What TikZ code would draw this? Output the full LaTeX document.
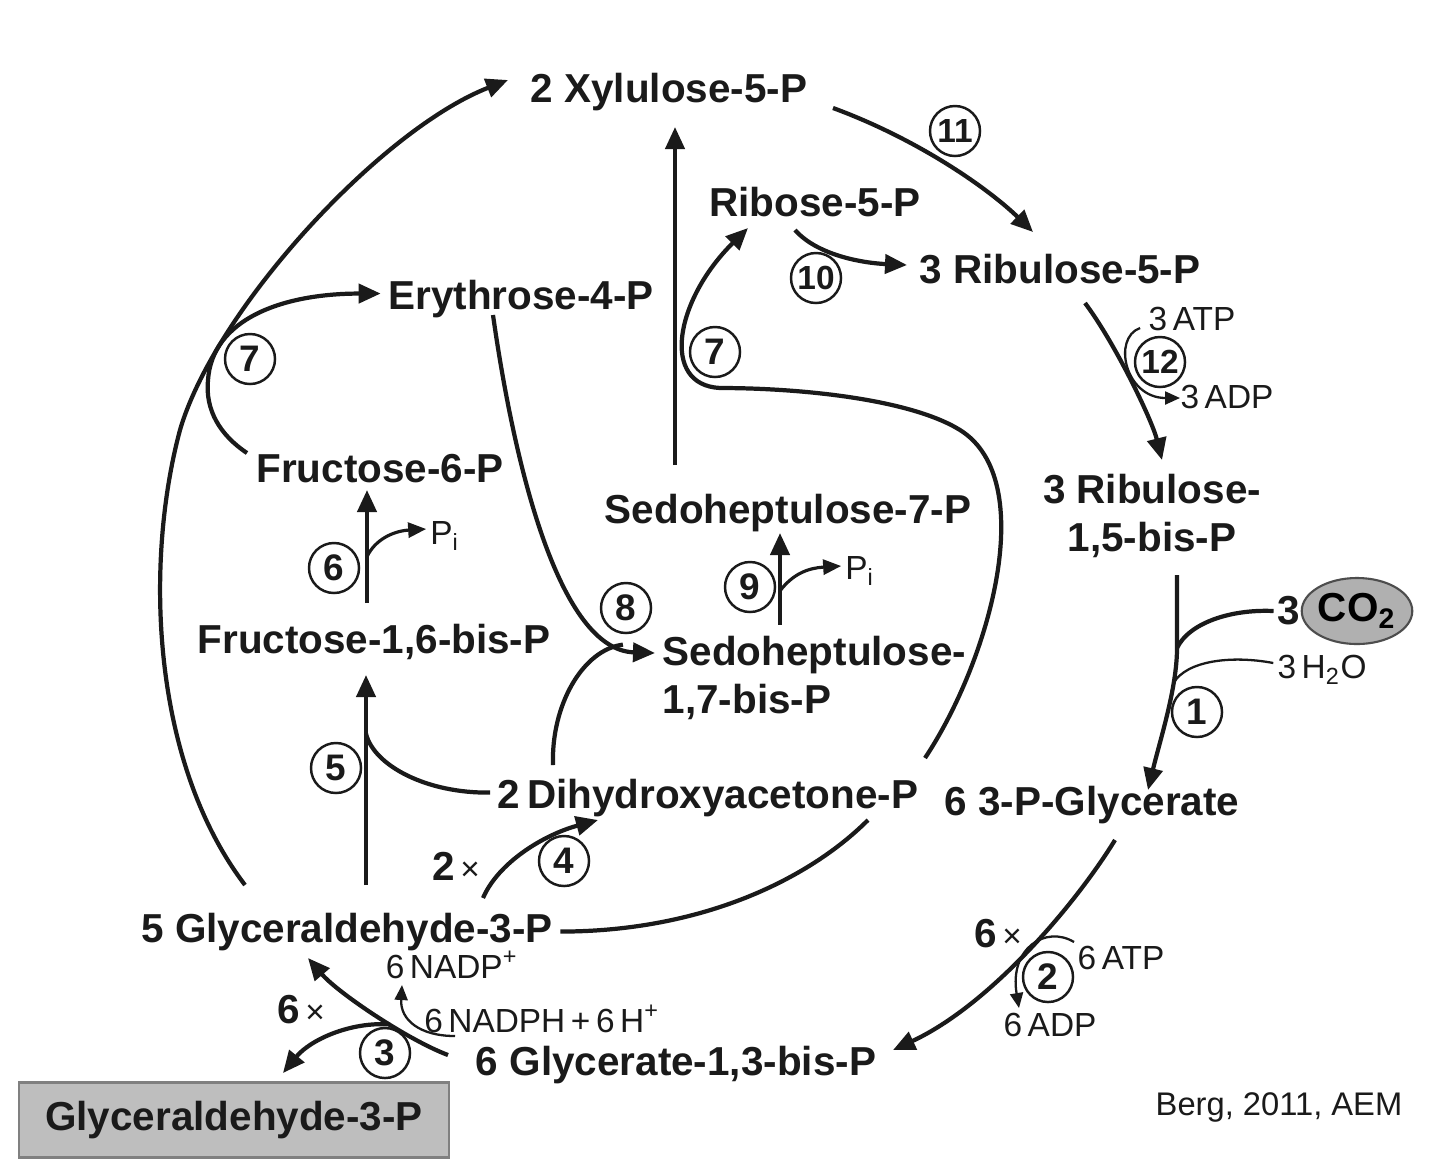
\documentclass[tikz,border=0pt]{standalone}
\usepackage{fontspec}
\setmainfont{Liberation Sans}
\usepackage{tikz}
\usetikzlibrary{arrows.meta,shapes.geometric}
\definecolor{inkblack}{HTML}{1A1A1A}
\definecolor{boxgray}{HTML}{BEBEBE}
\definecolor{boxedge}{HTML}{808080}
\definecolor{co2gray}{HTML}{B0B0B0}
\definecolor{co2edge}{HTML}{4D4D4D}
\newcommand{\metfont}{\fontsize{11.5}{13.5}\selectfont\bfseries}
\newcommand{\coffont}{\fontsize{9.5}{11}\selectfont}
\newcommand{\enzfont}{\fontsize{10.5}{12}\selectfont\bfseries}

\begin{document}
\begin{tikzpicture}[
  x=0.01cm,y=-0.01cm,
  met/.style={font=\metfont,text=inkblack,inner sep=2pt,anchor=base},
  twoline/.style={font=\metfont,text=inkblack,inner sep=2pt},
  cof/.style={font=\coffont,text=inkblack,inner sep=1pt},
  enz/.style={circle,draw=inkblack,line width=0.7pt,inner sep=0pt,
    minimum size=0.5cm,font=\enzfont,text=inkblack},
  enztwo/.style={enz,font=\fontsize{9.5}{11}\selectfont\bfseries},
  mult/.style={font=\metfont,text=inkblack,inner sep=1pt},
  rxn/.style={-{Triangle[length=2.2mm,width=1.9mm]},line width=1.2pt,draw=inkblack},
  plainline/.style={line width=1.2pt,draw=inkblack},
  thinline/.style={line width=0.65pt,draw=inkblack},
  pibranch/.style={-{Triangle[length=1.8mm,width=1.5mm]},line width=0.9pt,draw=inkblack},
  cofline/.style={-{Triangle[length=1.5mm,width=1.3mm]},line width=0.65pt,draw=inkblack}
]
\path[use as bounding box,fill=white] (0,0) rectangle (1440,1172);

% metabolites of the cycle
\node[met] (xyl) at (669,102) {2 Xylulose-5-P};
\node[met] (rib) at (815,216) {Ribose-5-P};
\node[met] (ru5p) at (1060,283) {3 Ribulose-5-P};
\node[met] (ery) at (521,309) {Erythrose-4-P};
\node[met] (f6p) at (380,482) {Fructose-6-P};
\node[met] (s7p) at (788,523) {Sedoheptulose-7-P};
\node[twoline,align=center] (rubp) at (1152,516) {3 Ribulose-\\1,5-bis-P};
\node[met] (fbp) at (374,653) {Fructose-1,6-bis-P};
\node[twoline,align=left,anchor=west] (sbp) at (655,678) {Sedoheptulose-\\1,7-bis-P};
\node[met] (dhap) at (708,808) {2\,Dihydroxyacetone-P};
\node[met] (pga) at (1092,815) {6 3-P-Glycerate};
\node[met] (gap) at (347,942) {5 Glyceraldehyde-3-P};
\node[met] (bpg) at (676,1075) {6 Glycerate-1,3-bis-P};
\node[twoline,draw=boxedge,fill=boxgray,line width=0.6pt,
  minimum width=4.3cm,minimum height=0.75cm] (prod) at (234,1120) {Glyceraldehyde-3-P};

% CO2 input and cofactors
\node[mult] (co2n) at (1289,611) {3};
\node[ellipse,draw=co2edge,fill=co2gray,line width=0.6pt,minimum width=0.98cm,
  minimum height=0.66cm,inner sep=0pt,font=\metfont] (co2) at (1357,611) {CO\textsubscript{2}};
\node[cof] (h2o) at (1322,670) {3\,H\textsubscript{2}O};
\node[cof] (atp3) at (1192,319) {3\,ATP};
\node[cof] (adp3) at (1227,397) {3\,ADP};
\node[cof] (atp6) at (1121,958) {6\,ATP};
\node[cof] (adp6) at (1050,1025) {6\,ADP};
\node[cof] (nadp) at (452,965) {6\,NADP\textsuperscript{+}};
\node[cof] (nadph) at (542,1019) {6\,NADPH\,+\,6\,H\textsuperscript{+}};
\node[cof] (pi6) at (445,536) {P\textsubscript{i}};
\node[cof] (pi9) at (860,571) {P\textsubscript{i}};
\node[cof,font=\fontsize{9.3}{11}\selectfont] (cite) at (1279,1107) {Berg, 2011, AEM};
\node[mult] (n4) at (456,866) {2{\coffont\mdseries\,×}};
\node[mult] (n2) at (998,934) {6{\coffont\mdseries\,×}};
\node[mult] (n3) at (301,1010) {6{\coffont\mdseries\,×}};

% enzyme numbers
\node[enz] (e1) at (1197,712) {1};
\node[enz] (e2) at (1048,977) {2};
\node[enz] (e3) at (385,1053) {3};
\node[enz] (e4) at (564,861) {4};
\node[enz] (e5) at (336,768) {5};
\node[enz] (e6) at (334,568) {6};
\node[enz] (e7a) at (250,359) {7};
\node[enz] (e7b) at (715,352) {7};
\node[enz] (e8) at (626,608) {8};
\node[enz] (e9) at (750,587) {9};
\node[enztwo] (e10) at (816,278) {10};
\node[enztwo] (e11) at (955,131) {11};
\node[enztwo] (e12) at (1160,362) {12};

% ribulose-5-P and its phosphorylation
\draw[rxn] ([shift={(164,6)}]xyl.base) .. controls +(87,32) and +(-43,-42) .. ([shift={(-27,-51)}]ru5p.base);
\draw[rxn] ([shift={(-20,14)}]rib.base) .. controls +(22,25) and +(-45,-2) .. ([shift={(-153,-18)}]ru5p.base);
\draw[rxn] ([shift={(25,20)}]ru5p.base) .. controls +(30,40) and +(-10,-40) .. ([shift={(10,-56)}]rubp.center);
\draw[cofline] ([shift={(-20,-34)}]e12.center) .. controls +(-28,10) and +(-55,0) .. ([shift={(20,36)}]e12.center);

% carboxylation
\draw[rxn] ([shift={(25,59)}]rubp.center) -- ++(0,73) coordinate (jco2)
  .. controls +(0,40) and +(12,-50) .. ([shift={(56,-25)}]pga.base) coordinate[pos=0.27] (jh2o);
\draw[plainline] (co2n.west) .. controls +(-43,-2) and +(12,-25) .. (jco2);
\draw[thinline] ([shift={(0,-7)}]h2o.west) .. controls +(-42,-8) and +(13,-22) .. (jh2o);

% reduction
\draw[rxn] ([shift={(23,25)}]pga.base) .. controls +(-40,65) and +(97,-45) .. ([shift={(217,-25)}]bpg.base);
\draw[cofline] ([shift={(26,-35)}]e2.center) .. controls +(-28,-17) and +(-10,-60) .. ([shift={(-29,31)}]e2.center);
\draw[rxn] ([shift={(-228,-20)}]bpg.base) .. controls +(-40,-15) and +(30,35) .. ([shift={(-39,16)}]gap.base) coordinate[pos=0.4] (j3);
\draw[rxn] (j3) .. controls +(-40,-3) and +(27,-33) .. ([shift={(49,-47)}]prod.center);
\draw[cofline] ([shift={(70,-17)}]e3.center) .. controls +(-35,0) and +(-2,35) .. ([shift={(17,-68)}]e3.center);

% big arc back to xylulose
\draw[rxn] ([shift={(-102,-57)}]gap.base) .. controls +(-95,-125) and +(-35,130) .. (180,430)
  .. controls +(35,-120) and +(-128,50) .. ([shift={(-161,-22)}]xyl.base);
\draw[rxn] ([shift={(-133,-29)}]f6p.base) .. controls +(-27,-18) and +(-3,30) .. (208,380)
  .. controls +(4,-60) and +(-100,0) .. ([shift={(0,-5)}]ery.west);

% hexose branch
\draw[rxn] ([shift={(19,-57)}]gap.base) -- ([shift={(-8,22)}]fbp.base) coordinate[pos=0.72] (j5);
\draw[plainline] ([shift={(0,-5)}]dhap.west) .. controls +(-63,1) and +(8,32) .. (j5);
\draw[rxn] ([shift={(-7,-50)}]fbp.base) -- ([shift={(-13,8)}]f6p.base) coordinate[pos=0.41] (p6);
\draw[pibranch] (p6) .. controls +(8,-17) and +(-33,2) .. ([shift={(0,-7)}]pi6.west);

% heptose branch
\draw[rxn] ([shift={(-28,6)}]ery.base) .. controls +(22,155) and +(-95,-3) .. ([shift={(0,-25)}]sbp.west) coordinate[pos=0.88] (j8);
\draw[plainline] ([shift={(-155,-43)}]dhap.base) .. controls +(-2,-60) and +(-40,5) .. (j8);
\draw[rxn] ([shift={(125,-4)}]sbp.north west) -- ([shift={(-8,10)}]s7p.base) coordinate[pos=0.37] (p9);
\draw[pibranch] (p9) .. controls +(13,-17) and +(-33,2) .. ([shift={(0,-5)}]pi9.west);
\draw[rxn] ([shift={(-113,-58)}]s7p.base) -- ([shift={(6,25)}]xyl.base);
\draw[rxn] ([shift={(217,-50)}]dhap.base) .. controls +(65,-98) and +(80,50) .. (960,430)
  .. controls +(-50,-31) and +(80,0) .. (720,388)
  .. controls +(-60,-3) and +(-73,72) .. ([shift={(-67,12)}]rib.base);

% triose isomerase
\draw[rxn] ([shift={(136,-44)}]gap.base) .. controls +(15,-35) and +(-55,15) .. ([shift={(-110,12)}]dhap.base);
\draw[plainline] (gap.east) .. controls +(140,0) and +(-60,60) .. ([shift={(160,12)}]dhap.base);
\end{tikzpicture}
\end{document}
